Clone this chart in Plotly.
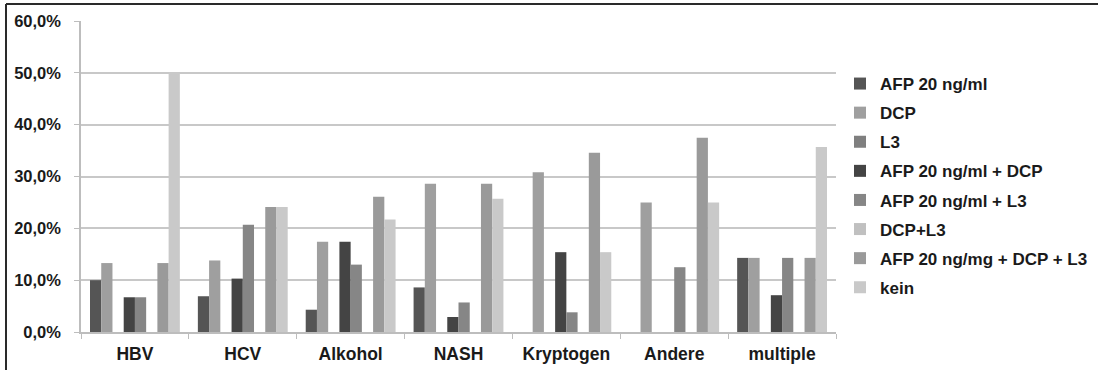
import plotly.graph_objects as go

categories = ["HBV", "HCV", "Alkohol", "NASH", "Kryptogen", "Andere", "multiple"]

afp20 = [10.0, 6.9, 4.3, 8.6, 0.0, 0.0, 14.3]
dcp = [13.3, 13.8, 17.4, 28.6, 30.8, 25.0, 14.3]
l3 = [0.0, 0.0, 0.0, 0.0, 0.0, 0.0, 0.0]
afp20_dcp = [6.7, 10.3, 17.4, 2.9, 15.4, 0.0, 7.1]
afp20_l3 = [6.7, 20.7, 13.0, 5.7, 3.8, 12.5, 14.3]
dcp_l3 = [0.0, 0.0, 0.0, 0.0, 0.0, 0.0, 0.0]
afp20_dcp_l3 = [13.3, 24.1, 26.1, 28.6, 34.6, 37.5, 14.3]
kein = [50.0, 24.1, 21.7, 25.7, 15.4, 25.0, 35.7]

series = [
    ("AFP 20 ng/ml", afp20, "#555555"),
    ("DCP", dcp, "#9f9f9f"),
    ("L3", l3, "#7f7f7f"),
    ("AFP 20 ng/ml + DCP", afp20_dcp, "#444444"),
    ("AFP 20 ng/ml + L3", afp20_l3, "#868686"),
    ("DCP+L3", dcp_l3, "#c0c0c0"),
    ("AFP 20 ng/mg + DCP + L3", afp20_dcp_l3, "#9a9a9a"),
    ("kein", kein, "#c9c9c9"),
]

yticks = [0, 10, 20, 30, 40, 50, 60]
ytick_labels = ["0,0%", "10,0%", "20,0%", "30,0%", "40,0%", "50,0%", "60,0%"]

FONT = "Liberation Sans, Arial, sans-serif"

fig = go.Figure()
for i, (name, vals, color) in enumerate(series):
    fig.add_trace(go.Bar(
        x=categories, y=vals, name=name, legendgroup=f"g{i}",
        marker=dict(color=color, line=dict(width=0)),
    ))

# Plot area in pixels: x 81..836, y 21..332
L, R, T, B = 81, 836, 21, 332
W, H = 1098, 370
pw, ph = R - L, B - T

def px_x(p):
    return (p - L) / pw

def px_y(p):
    return (B - p) / ph

fig.update_layout(
    width=W, height=H,
    margin=dict(l=L, r=W - R, t=T, b=H - B, pad=0, autoexpand=False),
    paper_bgcolor="white", plot_bgcolor="white",
    barmode="group", bargap=0.167, bargroupgap=0,
    font=dict(family=FONT, color="#1a1a1a"),
    xaxis=dict(
        type="category", showgrid=False, showline=True, linecolor="#bdbdbd", linewidth=1.5,
        ticks="outside", tickson="boundaries", ticklen=5, tickcolor="#bdbdbd",
        tickfont=dict(family=FONT, size=17.5, color="#1a1a1a", weight="bold"),
        ticklabelstandoff=5, automargin=False,
    ),
    yaxis=dict(
        range=[0, 60], tickvals=yticks, ticktext=ytick_labels,
        showgrid=True, gridcolor="#c8c8c8", gridwidth=1.5,
        showline=True, linecolor="#bdbdbd", linewidth=1.5,
        ticks="outside", ticklen=5, tickcolor="#bdbdbd",
        tickfont=dict(family=FONT, size=16.5, color="#1a1a1a", weight="bold"),
        ticklabelstandoff=10, zeroline=False, automargin=False,
    ),
    legend=dict(
        x=px_x(840), xanchor="left", y=px_y(66), yanchor="top",
        font=dict(family=FONT, size=17, color="#1a1a1a", weight="bold"),
        tracegroupgap=4, bgcolor="rgba(0,0,0,0)", borderwidth=0,
    ),
    showlegend=True,
)

# frame lines along the top and left edges
fig.add_shape(type="line", xref="paper", yref="paper",
              x0=px_x(6), x1=px_x(W + 5), y0=px_y(4), y1=px_y(4),
              line=dict(color="#2a2a2a", width=2))
fig.add_shape(type="line", xref="paper", yref="paper",
              x0=px_x(6), x1=px_x(6), y0=px_y(4), y1=px_y(H + 5),
              line=dict(color="#2a2a2a", width=2))

fig.write_html("out.html")
